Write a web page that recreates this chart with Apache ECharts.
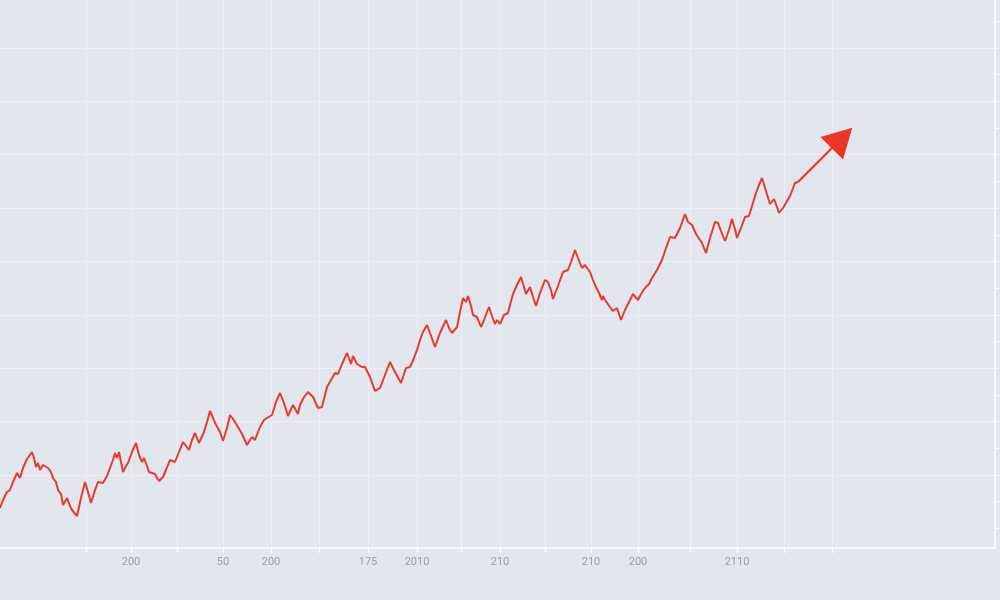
<!DOCTYPE html>
<html>
<head>
<meta charset="utf-8">
<script src="https://cdn.jsdelivr.net/npm/echarts@6/dist/echarts.min.js"></script>
<style>
  html, body { margin: 0; padding: 0; background: #e2e6ed; }
  #chart { width: 1000px; height: 600px; }
</style>
</head>
<body>
<div id="chart"></div>
<script>
// ---- data (time index, value) ----
const T = [-86,-83,-79,-76,-73,-69,-66,-63,-59,-57,-54,-52,-50,-48,-46,-43,-41,-38,-35,-33,-30,-28,-25,-23,-19,-16,-14,-12,-9,-5,-1,2,5,9,12,17,21,24,27,29,31,33,35,37,40,42,46,50,53,56,58,61,63,66,69,71,73,77,80,84,89,93,97,100,103,106,109,113,118,121,124,127,129,131,134,137,141,144,147,149,152,156,161,164,166,169,172,174,178,181,186,190,194,198,202,207,212,214,218,222,227,232,236,239,241,245,249,252,256,261,265,267,271,276,279,284,289,294,299,304,309,311,315,320,324,328,331,334,337,341,344,349,354,360,363,366,371,374,377,380,382,385,387,391,395,398,401,403,406,409,411,414,418,422,424,427,431,435,438,440,444,447,450,454,459,462,465,467,472,477,482,485,489,492,496,499,504,507,509,513,516,517,519,521,524,527,531,535,539,543,547,552,555,559,563,566,571,576,580,584,589,594,599,602,606,610,614,616,620,624,629,632,635,639,643,646,649,651,655,659,663,666,670,673,676,680,684,688,691,693,697,699,704,709,712];
const V = [40,48,56,58,66,75,70,80,89,87,96,90,81,85,78,83,81,80,76,70,66,58,54,43,50,42,38,40,32,50,66,56,45,58,66,65,72,80,88,95,90,96,86,76,82,85,96,105,93,86,90,82,76,75,74,70,67,71,78,88,86,96,106,102,98,108,115,105,116,126,137,130,125,125,116,107,120,133,129,127,121,114,103,108,111,108,116,121,128,130,133,146,155,145,132,143,134,143,151,156,151,140,141,153,161,168,175,174,184,195,184,192,184,181,181,171,157,160,173,186,176,175,165,180,181,190,198,208,216,223,215,201,215,228,220,215,221,236,250,246,252,242,233,231,221,228,236,241,232,224,228,224,233,235,243,254,263,271,261,254,261,251,242,255,268,266,258,249,262,276,278,286,298,290,280,283,276,268,263,255,248,252,248,248,241,237,240,228,238,246,254,248,254,260,264,270,278,288,300,311,310,320,334,326,323,314,308,305,295,310,326,325,317,307,318,329,319,310,320,331,332,342,355,363,370,357,344,349,341,335,340,339,352,365,366];
const ARROW_TIP = [756, 410];

// ---- axis ticks ----
const X_TICKS = [0,45,91,137,185,233,282,331,375,414,459,505,552,604,651,698,746];
const X_LABEL_POS = [45,137,185,282,331,414,505,552,651];
const X_LABELS = ['200','50','200','175','2010','210','210','200','2110'];
const Y_TICKS = [19.6,46.3,73,99.7,126.4,153.1,179.8,206.4,233.1,259.8,286.5,313.2,339.9,366.6,393.3,419.9,446.6,473.3,500,526.7];
const Y_GRID = [73,126.4,179.8,233.1,286.5,339.9,393.3,446.6,500];

const chart = echarts.init(document.getElementById('chart'), null, {renderer: 'canvas'});
const lineColor = '#e63b2e';
const gridColor = '#eef0f5';

chart.setOption({
  animation: false,
  backgroundColor: '#e2e6ed',
  grid: { left: 0, right: 5, top: 0, bottom: 52, containLabel: false },
  xAxis: {
    type: 'value', min: -86, max: 909,
    axisLine: { show: true, onZero: false, lineStyle: { color: '#ffffff', width: 1.5 } },
    axisTick: { show: true, length: 5, lineStyle: { color: '#ffffff', width: 1.2 }, customValues: X_TICKS },
    axisLabel: {
      show: true, customValues: X_LABEL_POS, margin: 9,
      color: '#9aa0a9', fontSize: 11, fontFamily: 'Roboto',
      formatter: function (v) {
        const i = X_LABEL_POS.indexOf(v);
        return i >= 0 ? X_LABELS[i] : '';
      }
    },
    splitLine: { show: true, lineStyle: { color: gridColor, width: 1 } }
  },
  yAxis: [
    {
      type: 'value', position: 'right', min: 0, max: 548,
      axisLine: { show: true, onZero: false, lineStyle: { color: '#ffffff', width: 1.5 } },
      axisTick: { show: true, inside: false, length: 4, lineStyle: { color: '#ffffff', width: 1 }, customValues: Y_TICKS },
      axisLabel: { show: false },
      splitLine: { show: false }
    },
    {
      type: 'value', position: 'right', min: 0, max: 548,
      axisLine: { show: false, onZero: false },
      axisTick: { show: false, customValues: Y_GRID },
      axisLabel: { show: false },
      splitLine: { show: true, lineStyle: { color: gridColor, width: 1 } }
    }
  ],
  series: [{
    type: 'line',
    yAxisIndex: 0,
    data: T.map((t, i) => [t, V[i]]),
    showSymbol: false,
    symbol: 'none',
    lineStyle: { color: lineColor, width: 2 },
    itemStyle: { color: lineColor },
    markLine: {
      silent: true,
      symbol: ['none', 'triangle'],
      symbolSize: [32, 29],
      label: { show: false },
      lineStyle: { color: '#ec3524', width: 2.2, type: 'solid' },
      itemStyle: { color: '#ee3322' },
      data: [[{ coord: [T[T.length - 1], V[V.length - 1]] }, { coord: ARROW_TIP }]]
    }
  }]
});
</script>
</body>
</html>
